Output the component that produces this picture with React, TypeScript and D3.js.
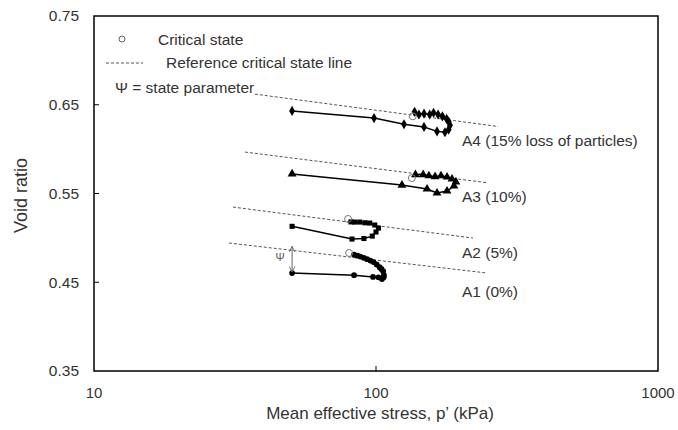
import React from "react";
import * as d3 from "d3";

// Stress paths: [mean effective stress p' (kPa), void ratio e]
const a1Path: [number, number][] = [
  [50.4, 0.4604], [83.6, 0.458], [97.6, 0.456], [102, 0.4555], [105, 0.4536],
  [106.5, 0.4555], [106.7, 0.458], [106, 0.4625], [104.5, 0.465], [103, 0.467],
  [100.5, 0.47], [98, 0.4727], [95.5, 0.4745], [93, 0.476], [90.5, 0.4775],
  [88, 0.479], [86, 0.48], [83.6, 0.481],
];
const a2Path: [number, number][] = [
  [50.4, 0.513], [82.2, 0.4987], [90.6, 0.4993], [97, 0.502], [100, 0.5066],
  [102, 0.511], [99, 0.5145], [95, 0.5167], [91.4, 0.517], [87.6, 0.5178],
  [84, 0.5178], [81.5, 0.518],
];
const a3Path: [number, number][] = [
  [50.4, 0.572], [123.6, 0.5595], [151.7, 0.555], [164.6, 0.5505], [178.6, 0.5528],
  [189, 0.5584], [192, 0.563], [186, 0.5663], [178.6, 0.5686], [170, 0.57],
  [162, 0.569], [154, 0.57], [147, 0.5713], [138, 0.5713],
];
const a4Path: [number, number][] = [
  [50.4, 0.643], [98.4, 0.635], [125.7, 0.628], [148, 0.625], [164.6, 0.62],
  [175.6, 0.619], [181, 0.622], [183, 0.627], [181, 0.631], [178, 0.634],
  [172, 0.637], [166, 0.639], [160, 0.641], [155, 0.639], [148, 0.64],
  [142, 0.639], [137, 0.642],
];

// Critical states reached by each test
const criticalStates: [number, number][] = [
  [80.3, 0.483], [79.6, 0.5213], [134, 0.5674], [135, 0.637],
];

// Reference critical state lines (start / end)
const referenceLines: [number, number][][] = [
  [[30.1, 0.4942], [247.7, 0.4604]],
  [[31.1, 0.5347], [220.8, 0.4998]],
  [[34.3, 0.5967], [245.6, 0.5623]],
  [[37.2, 0.662], [271, 0.6255]],
];

const seriesLabels = ["A1 (0%)", "A2 (5%)", "A3 (10%)", "A4 (15% loss of particles)"];
const seriesLabelE = [0.44, 0.484, 0.547, 0.61];

const xTicks = [10, 100, 1000];
const yTicks = [0.35, 0.45, 0.55, 0.65, 0.75];

// State parameter arrow (A1, at the start of shearing)
const psiP = 50.4;
const psiTop = 0.4905;
const psiBottom = 0.4615;

const FONT = "'Liberation Sans', Arial, sans-serif";
const TEXT = "#333";

export default function App() {
  const left = 94, right = 658, top = 16, bottom = 371;
  const x = d3.scaleLog().domain([10, 1000]).range([left, right]);
  const y = d3.scaleLinear().domain([0.35, 0.75]).range([bottom, top]);
  const line = d3.line<[number, number]>().x((d) => x(d[0])).y((d) => y(d[1]));

  const series = [
    { data: a1Path, symbol: d3.symbolCircle, size: 26 },
    { data: a2Path, symbol: d3.symbolSquare, size: 26 },
    { data: a3Path, symbol: d3.symbolTriangle, size: 34 },
    { data: a4Path, symbol: d3.symbolDiamond, size: 30 },
  ];

  return (
    <div style={{ position: "absolute", left: 0, top: 0 }}>
      <svg width={678} height={430} style={{ display: "block", background: "#fff" }}>
        <defs>
          <marker id="psiHead" viewBox="0 0 10 10" refX="9" refY="5" markerWidth="7" markerHeight="7" orient="auto-start-reverse">
            <path d="M1,1 L9,5 L1,9" fill="none" stroke="#666" strokeWidth="1.3" />
          </marker>
        </defs>

        {/* frame */}
        <rect x={left} y={top} width={right - left} height={bottom - top} fill="none" stroke="#000" strokeWidth={1.5} />

        {/* y axis */}
        {yTicks.map((t) => (
          <g key={"y" + t}>
            {t > 0.35 && t < 0.75 && (
              <line x1={left} x2={left + 5} y1={y(t)} y2={y(t)} stroke="#000" strokeWidth={1} />
            )}
            <text x={left - 15} y={y(t)} dy="0.35em" textAnchor="end" fontFamily={FONT} fontSize={15.5} fill={TEXT}>
              {t.toFixed(2)}
            </text>
          </g>
        ))}
        <text transform={`translate(21,${(top + bottom) / 2 + 2}) rotate(-90)`} textAnchor="middle" dy="0.35em" fontFamily={FONT} fontSize={18} fill={TEXT}>
          Void ratio
        </text>

        {/* x axis */}
        {xTicks.map((t) => (
          <g key={"x" + t}>
            {t > 10 && t < 1000 && (
              <line x1={x(t)} x2={x(t)} y1={bottom} y2={bottom - 5} stroke="#000" strokeWidth={1} />
            )}
            <text x={x(t)} y={bottom + 22} dy="0.35em" textAnchor="middle" fontFamily={FONT} fontSize={15} fill={TEXT}>
              {t}
            </text>
          </g>
        ))}
        <text x={(left + right) / 2 + 4} y={413} dy="0.35em" textAnchor="middle" fontFamily={FONT} fontSize={17} fill={TEXT}>
          Mean effective stress, p’ (kPa)
        </text>

        {/* reference critical state lines */}
        {referenceLines.map((l, i) => (
          <path key={"ref" + i} d={line(l) || ""} fill="none" stroke="#555" strokeWidth={1} strokeDasharray="3,2" />
        ))}

        {/* stress paths */}
        {series.map((s, i) => (
          <g key={"s" + i}>
            <path d={line(s.data) || ""} fill="none" stroke="#000" strokeWidth={1.5} />
            {s.data.map((d, j) => (
              <path key={j} transform={`translate(${x(d[0])},${y(d[1])})`} d={d3.symbol(s.symbol, s.size)() || ""} fill="#000" />
            ))}
          </g>
        ))}

        {/* critical states */}
        {criticalStates.map((d, i) => (
          <circle key={"cs" + i} cx={x(d[0])} cy={y(d[1])} r={3.5} fill="none" stroke="#777" strokeWidth={1} />
        ))}

        {/* series labels */}
        {seriesLabels.map((lab, i) => (
          <text key={"lab" + i} x={462} y={y(seriesLabelE[i])} dy="0.35em" fontFamily={FONT} fontSize={15.5} fill={TEXT}>
            {lab}
          </text>
        ))}

        {/* state parameter */}
        <line x1={x(psiP)} x2={x(psiP)} y1={y(psiBottom)} y2={y(psiTop)} stroke="#666" strokeWidth={1} markerStart="url(#psiHead)" markerEnd="url(#psiHead)" />
        <text x={x(psiP) - 12} y={257} dy="0.35em" textAnchor="middle" fontFamily={FONT} fontSize={11} fill="#555">
          Ψ
        </text>

        {/* legend */}
        <circle cx={122} cy={39} r={3} fill="none" stroke="#666" strokeWidth={1} />
        <text x={158} y={40} dy="0.35em" fontFamily={FONT} fontSize={15.5} fill={TEXT}>Critical state</text>
        <line x1={106} x2={143} y1={63} y2={63} stroke="#555" strokeWidth={1} strokeDasharray="3,2" />
        <text x={166} y={63} dy="0.35em" fontFamily={FONT} fontSize={15.5} fill={TEXT}>Reference critical state line</text>
        <text x={115} y={88} dy="0.35em" fontFamily={FONT} fontSize={15.5} fill={TEXT}>Ψ = state parameter</text>
      </svg>
    </div>
  );
}
